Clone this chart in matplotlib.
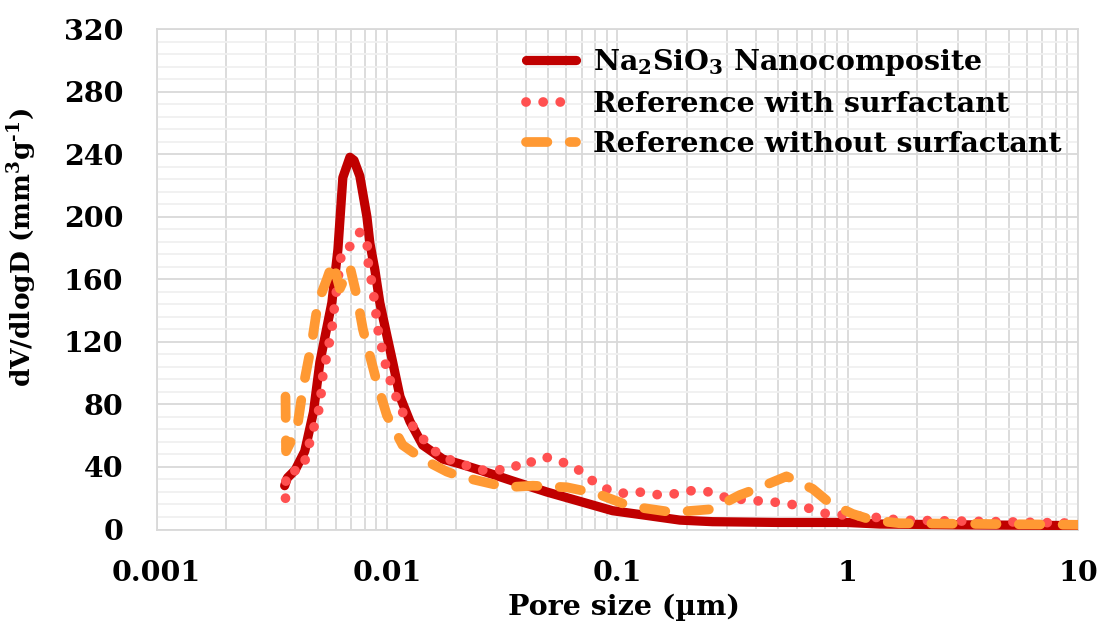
import matplotlib
matplotlib.use("Agg")
import matplotlib.pyplot as plt
from matplotlib.ticker import LogLocator, MultipleLocator, FixedLocator, FixedFormatter, NullFormatter

plt.rcParams['font.family'] = ['DejaVu Serif']
plt.rcParams['font.weight'] = 'bold'
plt.rcParams['mathtext.fontset'] = 'custom'
plt.rcParams['mathtext.rm'] = 'DejaVu Serif:bold'
plt.rcParams['mathtext.bf'] = 'DejaVu Serif:bold'
plt.rcParams['mathtext.default'] = 'rm'

# Pore size distribution (pore size in µm, dV/dlogD in mm3/g)
na_x = [0.0036, 0.0037, 0.0040, 0.0044, 0.0048, 0.00512, 0.00577, 0.00613, 0.00644,
        0.00691, 0.0072, 0.00763, 0.00819, 0.00844, 0.00887, 0.00932, 0.0100, 0.0106,
        0.0114, 0.0126, 0.0143, 0.0175, 0.0207, 0.0253, 0.0352, 0.0494, 0.0687, 0.0955,
        0.134, 0.187, 0.259, 0.5, 0.99, 1.38, 3.0, 10.0]
na_y = [28, 33, 38, 50, 75, 107, 145, 179, 225,
        238, 236, 226, 200, 183, 166, 145, 124, 107,
        85, 69, 54, 45, 42, 38, 31, 24, 18, 12,
        9, 6, 5, 4.5, 4.5, 3.5, 3, 2.5]

ws_x = [0.00363, 0.00365, 0.00432, 0.00463, 0.00512, 0.00527, 0.00577, 0.00595, 0.00638,
        0.00691, 0.00763, 0.00819, 0.00829, 0.00869, 0.00914, 0.0098, 0.0106, 0.0117,
        0.0139, 0.0170, 0.0201, 0.0253, 0.0300, 0.0352, 0.0389, 0.0430, 0.0475, 0.0510,
        0.0604, 0.0654, 0.0723, 0.0815, 0.0955, 0.110, 0.129, 0.153, 0.183, 0.213, 0.252,
        0.301, 0.365, 0.428, 0.533, 0.664, 0.811, 1.02, 1.28, 1.68, 4.57, 10.0]
ws_y = [20, 36, 39, 56, 79, 98, 128, 145, 179,
        181, 190, 186, 171, 154, 128, 107, 90, 75,
        60, 47, 43, 38, 38, 39, 44, 43, 46, 46,
        42, 40, 35, 29, 24, 23, 24, 22, 23, 25, 24,
        20, 19, 18, 17, 14, 10, 9, 8, 6, 5, 4]

wo_x = [0.00363, 0.00365, 0.00407, 0.00432, 0.00473, 0.00502, 0.00549, 0.00583, 0.00625,
        0.00691, 0.00741, 0.00787, 0.00844, 0.00905, 0.0100, 0.0117, 0.0143, 0.0182,
        0.0207, 0.0253, 0.0331, 0.0430, 0.0604, 0.0815, 0.113, 0.174, 0.259, 0.340,
        0.402, 0.543, 0.705, 0.835, 1.05, 1.28, 1.68, 10.0]
wo_y = [85, 50, 64, 90, 120, 145, 160, 171, 154,
        168, 149, 128, 111, 94, 73, 54, 45, 37,
        34, 31, 27, 28, 27, 23, 15, 11, 13, 22,
        26, 34, 26, 17, 10, 6, 4, 3]

labels = ["Na$_2$SiO$_3$ Nanocomposite", "Reference with surfactant",
          "Reference without surfactant"]
x_ticks = [0.001, 0.01, 0.1, 1, 10]
x_tick_labels = ["0.001", "0.01", "0.1", "1", "10"]
y_ticks = list(range(0, 321, 40))

c_na = "#C00000"
c_ws = "#FF5050"
c_wo = "#FF9933"

fs = 20.5

fig = plt.figure(figsize=(11.05, 6.3), dpi=100)
W, H = 1105, 630
left, right, top, bottom = 156.5, 1078, 29, 529.5
ax = fig.add_axes([left / W, (H - bottom) / H, (right - left) / W, (bottom - top) / H])

lw = 7.0
ax.plot(na_x, na_y, color=c_na, lw=lw * 0.95, solid_capstyle='round',
        solid_joinstyle='round', label=labels[0], zorder=3)
ax.plot(ws_x, ws_y, color=c_ws, lw=lw, linestyle=(0, (0.01, 1.75)),
        dash_capstyle='round', label=labels[1], zorder=4)
ax.plot(wo_x, wo_y, color=c_wo, lw=lw, linestyle=(0, (2.2, 2.3)),
        dash_capstyle='round', dash_joinstyle='round', label=labels[2], zorder=5)

ax.set_xscale('log')
ax.set_xlim(0.001, 10)
ax.set_ylim(0, 320)
ax.xaxis.set_major_locator(FixedLocator(x_ticks))
ax.xaxis.set_major_formatter(FixedFormatter(x_tick_labels))
ax.xaxis.set_minor_locator(LogLocator(base=10, subs=range(2, 10), numticks=20))
ax.xaxis.set_minor_formatter(NullFormatter())
ax.yaxis.set_major_locator(FixedLocator(y_ticks))
ax.yaxis.set_minor_locator(MultipleLocator(8))

ax.grid(which='major', axis='both', color='#d9d9d9', lw=1.3, zorder=0)
ax.grid(which='minor', axis='x', color='#d9d9d9', lw=1.3, zorder=0)
ax.grid(which='minor', axis='y', color='#f0f0f0', lw=1.3, zorder=0)
ax.set_axisbelow(True)
for s in ax.spines.values():
    s.set_color('#d9d9d9')
    s.set_linewidth(1.3)

ax.tick_params(which='both', length=0)
ax.tick_params(axis='y', pad=24, labelsize=fs)
ax.tick_params(axis='x', pad=22, labelsize=fs)
for t in ax.get_xticklabels() + ax.get_yticklabels():
    t.set_fontweight('bold')

ax.set_xlabel("Pore size (µm)", fontsize=fs, fontweight='bold')
ax.xaxis.set_label_coords((624 - left) / (right - left), (bottom - 594) / (bottom - top))
ax.set_ylabel("dV/dlogD (mm$^3$g$^{\u20101}$)", fontsize=19, fontweight='bold')
ax.yaxis.set_label_coords((39 - left) / (right - left), (bottom - 248) / (bottom - top))

leg = ax.legend(loc='upper left',
                bbox_to_anchor=((526 - left) / (right - left), 1 - (47 - top) / (bottom - top)),
                frameon=False, fontsize=fs, handlelength=1.75, handletextpad=0.6,
                labelspacing=0.46, borderaxespad=0, borderpad=0)
for t in leg.get_texts():
    t.set_fontweight('bold')

fig.savefig("out.png", dpi=100, facecolor='white')
